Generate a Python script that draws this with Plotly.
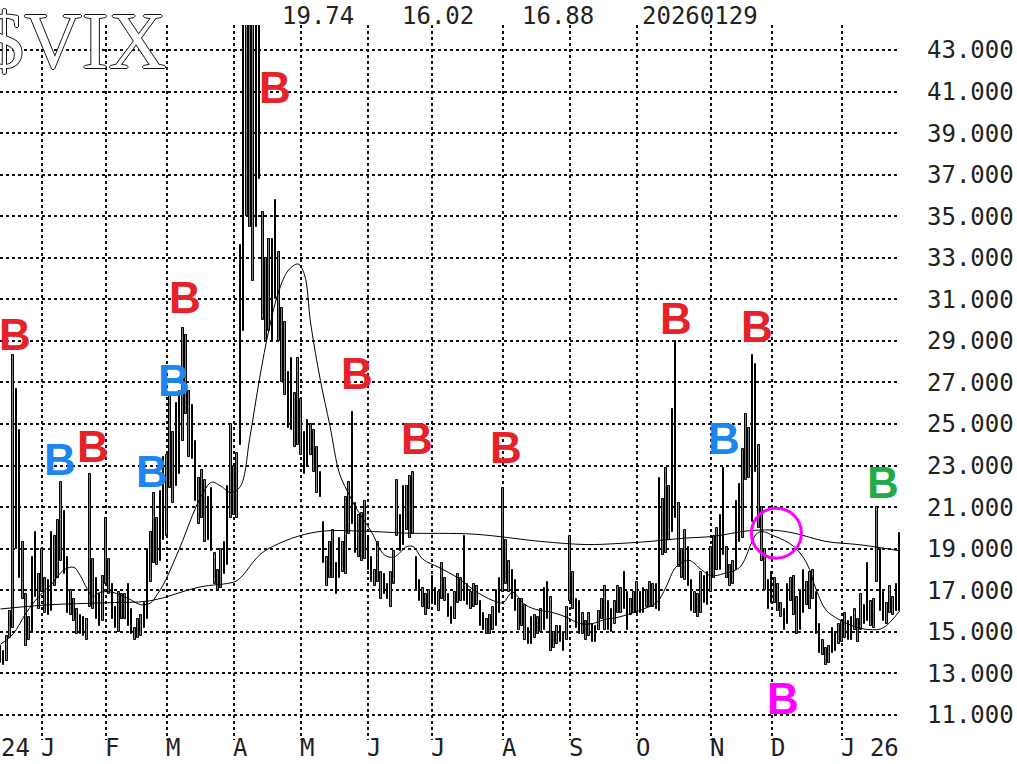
import plotly.graph_objects as go

# daily high / low of $VIX, one value per trading day (Dec 12 2024 .. Jan 29 2026)
dec24_hi = [14.3, 14.1, 14.8, 16.0, 28.3, 26.7, 24.7, 19.3, 16.8, 15.7, 18.6, 19.8, 17.8]
dec24_lo = [13.5, 13.4, 13.6, 14.7, 15.2, 19.0, 17.6, 16.6, 14.3, 14.6, 15.0, 16.7, 16.1]
jan_hi = [19.0, 17.6, 17.5, 19.8, 19.6, 20.4, 22.2, 20.8, 18.6, 17.0, 16.6, 16.1, 15.8, 15.7, 15.6, 22.6, 18.5, 17.6, 16.8, 17.7]
jan_lo = [16.9, 15.9, 15.8, 16.0, 17.2, 17.6, 18.4, 17.8, 15.9, 15.8, 15.5, 14.9, 14.9, 14.8, 14.6, 16.2, 16.1, 15.6, 15.3, 15.5]
feb_hi = [20.5, 18.5, 17.3, 16.2, 16.9, 16.8, 16.8, 17.3, 16.1, 15.2, 15.6, 15.8, 16.4, 19.0, 19.8, 21.7, 20.5, 21.8, 23.4]
feb_lo = [17.3, 16.8, 15.6, 15.2, 15.0, 15.6, 15.6, 15.3, 14.9, 14.6, 14.7, 14.8, 15.2, 15.6, 17.4, 18.3, 18.2, 18.4, 19.4]
mar_hi = [23.5, 26.4, 24.6, 26.0, 26.6, 29.6, 29.3, 26.6, 25.9, 24.2, 22.4, 22.8, 22.3, 21.5, 21.9, 18.8, 18.0, 19.0, 19.3, 22.0, 25.0]
mar_lo = [19.6, 21.9, 21.2, 22.0, 22.6, 24.2, 25.5, 23.4, 23.3, 21.3, 20.2, 20.5, 19.3, 19.4, 18.9, 17.3, 17.0, 17.1, 17.8, 18.2, 20.5]
apr_hi = [23.0, 23.6, 33.6, 45.6, 60.1, 57.5, 57.5, 54.9, 46.1, 35.2, 33.0, 33.9, 33.9, 35.8, 33.3, 30.6, 29.9, 27.5, 28.2, 26.5, 28.2]
apr_lo = [20.6, 20.5, 24.0, 29.5, 35.0, 34.5, 31.9, 34.5, 36.8, 30.0, 29.0, 29.5, 29.0, 31.0, 29.0, 27.0, 26.4, 24.8, 24.7, 23.9, 24.0]
may_hi = [26.2, 24.6, 25.2, 25.0, 24.7, 23.9, 22.7, 20.3, 18.6, 19.3, 19.9, 18.3, 19.5, 19.3, 21.5, 22.2, 25.6, 21.2, 20.6, 20.7, 21.3]
may_lo = [23.5, 22.6, 23.0, 23.5, 22.7, 21.7, 21.5, 18.3, 17.2, 17.6, 17.6, 16.8, 17.6, 17.9, 17.8, 19.7, 20.2, 18.8, 18.6, 18.4, 18.5]
jun_hi = [19.6, 18.6, 18.0, 19.3, 17.9, 17.8, 17.3, 17.9, 18.9, 22.3, 20.6, 22.0, 22.0, 22.5, 22.7, 18.6, 17.5, 17.1, 16.8, 17.0]
jun_lo = [18.0, 17.4, 17.2, 17.4, 16.6, 16.8, 16.6, 16.2, 17.3, 19.6, 18.9, 19.2, 19.9, 19.5, 19.7, 17.0, 16.5, 16.2, 15.8, 16.1]
jul_hi = [17.7, 17.1, 16.9, 18.3, 17.6, 16.8, 16.2, 16.9, 17.8, 17.6, 19.6, 17.3, 16.9, 17.3, 17.2, 16.5, 15.9, 15.6, 15.8, 16.2, 17.0, 17.6]
jul_lo = [16.4, 16.3, 16.0, 16.6, 16.5, 15.7, 15.4, 15.6, 16.4, 16.5, 16.5, 16.3, 16.1, 16.2, 16.3, 15.3, 15.1, 14.9, 14.9, 15.1, 15.3, 15.9]
aug_hi = [21.9, 19.4, 18.4, 18.0, 17.5, 16.6, 16.6, 16.3, 15.2, 15.7, 15.8, 15.7, 16.1, 17.1, 17.4, 16.7, 15.0, 15.3, 15.3, 15.0, 16.2]
aug_lo = [16.9, 17.3, 16.9, 16.6, 16.0, 15.1, 15.3, 14.6, 14.4, 14.4, 14.7, 14.9, 15.0, 15.1, 15.6, 14.1, 14.2, 14.4, 14.5, 14.1, 14.6]
sep_hi = [19.6, 17.9, 16.6, 16.5, 15.9, 15.5, 15.9, 15.4, 15.3, 16.0, 16.6, 17.2, 16.5, 16.1, 16.5, 17.2, 17.1, 17.9, 16.9, 16.6, 16.9]
sep_lo = [16.5, 16.1, 15.2, 14.9, 14.9, 14.6, 14.8, 14.5, 14.5, 15.1, 15.6, 15.1, 15.1, 15.0, 15.4, 15.9, 15.9, 16.1, 15.1, 15.8, 15.9]
oct_hi = [17.4, 16.9, 17.1, 17.0, 17.4, 17.3, 17.3, 22.4, 21.4, 22.9, 22.0, 25.7, 29.0, 21.2, 19.0, 19.9, 19.1, 17.5, 16.9, 16.8, 17.9, 17.7, 17.9]
oct_lo = [15.9, 15.9, 15.9, 16.2, 16.2, 16.2, 16.1, 16.0, 18.7, 18.8, 19.4, 19.8, 20.5, 18.1, 17.6, 17.5, 17.2, 16.0, 15.9, 15.7, 15.9, 16.4, 16.3]
nov_hi = [19.1, 19.6, 20.0, 20.6, 22.9, 19.1, 18.2, 18.4, 21.3, 22.1, 23.8, 25.5, 24.8, 28.3, 27.9, 24.0, 21.0, 19.0, 17.5]
nov_lo = [16.9, 17.6, 18.0, 18.0, 18.7, 17.6, 17.2, 17.3, 18.0, 19.3, 19.5, 22.3, 22.4, 20.3, 22.7, 20.0, 18.4, 17.0, 16.1]
dec_hi = [17.9, 17.6, 17.3, 16.4, 16.1, 17.3, 17.6, 17.7, 16.7, 17.0, 18.0, 17.4, 17.9, 18.0, 16.9, 15.4, 14.6, 14.2, 14.3, 15.2, 15.0, 15.4]
dec_lo = [16.4, 16.4, 16.0, 15.7, 15.1, 15.4, 16.5, 15.8, 14.9, 15.1, 15.9, 16.3, 16.1, 16.6, 14.9, 14.0, 13.9, 13.4, 13.5, 14.0, 14.1, 14.4]
jan26_hi = [15.5, 15.9, 15.5, 15.7, 16.1, 15.6, 16.8, 16.3, 18.3, 16.5, 16.6, 21.0, 19.0, 16.9, 16.4, 17.2, 16.7, 17.3, 19.74]
jan26_lo = [14.5, 14.7, 14.6, 14.6, 15.1, 14.5, 15.1, 15.4, 15.5, 15.3, 15.2, 17.4, 16.0, 15.5, 15.4, 15.9, 15.8, 16.0, 16.02]

# moving averages (trading-day index, value); day 0 = Jan 2 2025
ma20_day = [-13, -9, -5, -1, 3, 7, 10, 12, 14, 16, 18, 22, 27, 31, 34, 36, 38, 41, 44, 47, 50, 53, 56, 59,
            62, 65, 68, 71, 74, 77, 80, 82, 84, 87, 90, 93, 96, 98, 103, 107, 110, 114, 116, 119, 124, 130,
            135, 141, 144, 147, 151, 155, 159, 164, 168, 172, 176, 180, 187, 192, 195, 198, 202, 206, 209,
            213, 218, 224, 229, 235, 239, 242, 245, 249, 255, 260, 263, 268]
ma20_val = [14.4, 14.9, 15.9, 16.7, 17.3, 18.0, 18.1, 17.7, 17.1, 16.7, 16.9, 16.9, 16.6, 16.3, 16.4, 16.8,
            17.3, 18.3, 19.4, 20.6, 21.6, 22.2, 22.0, 21.7, 22.0, 24.4, 27.2, 29.6, 31.4, 32.4, 32.7, 32.2,
            29.8, 27.1, 24.9, 22.6, 21.6, 21.0, 19.8, 18.7, 18.6, 19.1, 19.1, 18.5, 18.1, 17.6, 17.0, 16.5,
            16.4, 16.9, 16.3, 16.05, 15.95, 15.7, 15.4, 15.4, 15.6, 15.7, 16.05, 16.4, 17.15, 18.1, 18.45,
            18.0, 17.7, 17.8, 18.1, 19.8, 19.6, 19.1, 18.3, 17.0, 16.05, 15.6, 15.2, 15.1, 15.2, 16.0]
ma200_day = [-13, 2, 20, 34, 49, 60, 62, 68, 72, 80, 88, 100, 114, 135, 156, 170, 180, 190, 200, 210, 220,
             228, 235, 245, 255, 262, 268]
ma200_val = [16.1, 16.3, 16.4, 16.5, 17.15, 17.4, 17.6, 18.7, 19.1, 19.6, 19.85, 19.85, 19.75, 19.7, 19.35,
             19.2, 19.25, 19.35, 19.5, 19.6, 19.85, 19.9, 19.75, 19.35, 19.2, 19.05, 18.9]

month_day = [0, 20, 39, 60, 81, 102, 122, 144, 165, 186, 209, 228, 250]
month_text = ['J', 'F', 'M', 'A', 'M', 'J', 'J', 'A', 'S', 'O', 'N', 'D', 'J 26']
y_ticks = list(range(11, 44, 2))

# buy signals: (day, level, colour)
sig_day = [-8.4, 5.6, 16, 34.4, 41.3, 44.7, 72.8, 98.4, 117.2, 145, 198.1, 213, 223.4, 231.6, 262.8]
sig_lvl = [29.3, 23.3, 23.9, 22.7, 27.1, 31.1, 41.2, 27.45, 24.3, 23.85, 30.1, 24.3, 29.7, 11.8, 22.2]
sig_col = ['red', 'blue', 'red', 'blue', 'blue', 'red', 'red', 'red', 'red', 'red', 'red', 'blue', 'red',
           'magenta', 'green']
colours = {'red': '#e52229', 'blue': '#1c86ee', 'green': '#22aa48', 'magenta': '#ff00ff'}

high = (dec24_hi + jan_hi + feb_hi + mar_hi + apr_hi + may_hi + jun_hi + jul_hi + aug_hi + sep_hi
        + oct_hi + nov_hi + dec_hi + jan26_hi)
low = (dec24_lo + jan_lo + feb_lo + mar_lo + apr_lo + may_lo + jun_lo + jul_lo + aug_lo + sep_lo
       + oct_lo + nov_lo + dec_lo + jan26_lo)
days = list(range(-13, -13 + len(high)))

mono = 'DejaVu Sans Mono'
fig = go.Figure()

fig.add_trace(go.Bar(
    x=days, y=[h - l for h, l in zip(high, low)], base=low, width=0.45,
    marker=dict(color='#808080', line=dict(color='black', width=1))
))
fig.add_trace(go.Scatter(x=ma20_day, y=ma20_val, mode='lines',
                         line=dict(color='black', width=1, shape='spline')))
fig.add_trace(go.Scatter(x=ma200_day, y=ma200_val, mode='lines',
                         line=dict(color='black', width=1, shape='spline')))

annotations = []
for d, lv, c in zip(sig_day, sig_lvl, sig_col):
    annotations.append(dict(x=d, y=lv, xref='x', yref='y', text='B', showarrow=False,
                            font=dict(family='Liberation Sans', size=44, color=colours[c], weight='bold')))
for d, t in zip(month_day, month_text):
    annotations.append(dict(x=d, y=-0.011, xref='x', yref='paper', text=t, showarrow=False,
                            xanchor='left', yanchor='middle', xshift=-3,
                            font=dict(family=mono, size=24, color='#222')))
annotations.append(dict(x=0, y=-0.011, xref='paper', yref='paper', text='24', showarrow=False,
                        xanchor='left', yanchor='middle', xshift=-1,
                        font=dict(family=mono, size=24, color='#222')))
# last bar high / low / close and date
for px, t in zip([283, 403, 523, 643], ['19.74', '16.02', '16.88', '20260129']):
    annotations.append(dict(x=px / 900, y=1.0126, xref='paper', yref='paper', text=t, showarrow=False,
                            xanchor='left', yanchor='middle', xshift=-3,
                            font=dict(family=mono, size=24, color='#222')))
# hollow serif title
annotations.append(dict(x=168 / 900, y=0.978, xref='paper', yref='paper', text='$VIX', showarrow=False,
                        xanchor='right', yanchor='middle',
                        font=dict(family='Liberation Serif', size=80, color='white',
                                  shadow='1px 0 0 #111, -1px 0 0 #111, 0 1px 0 #111, 0 -1px 0 #111')))

fig.update_layout(
    width=1017, height=764,
    margin=dict(l=0, r=117, t=25, b=24),
    paper_bgcolor='white', plot_bgcolor='white',
    showlegend=False, bargap=0,
    annotations=annotations,
    shapes=[dict(type='circle', xref='x', yref='y', xsizemode='pixel', ysizemode='pixel',
                 xanchor=229.5, yanchor=19.75, x0=-25, x1=25, y0=-25, y1=25,
                 line=dict(color='#ff00ff', width=3))],
    xaxis=dict(range=[-13.125, 268.125], tickvals=month_day, showticklabels=False,
               showgrid=True, gridcolor='#111', gridwidth=1.5, griddash='3px,3px',
               zeroline=False, showline=False, ticks=''),
    yaxis=dict(range=[9.795, 44.203], tickvals=y_ticks, tickformat='.3f', side='right',
               showgrid=True, gridcolor='#111', gridwidth=1.5, griddash='3px,3px',
               zeroline=False, showline=False, ticks='', ticklabelstandoff=26,
               tickfont=dict(family=mono, size=24, color='#222')),
)

fig.write_html("out.html", config={'displayModeBar': False},
               post_script="document.body.style.margin = '0px';")
